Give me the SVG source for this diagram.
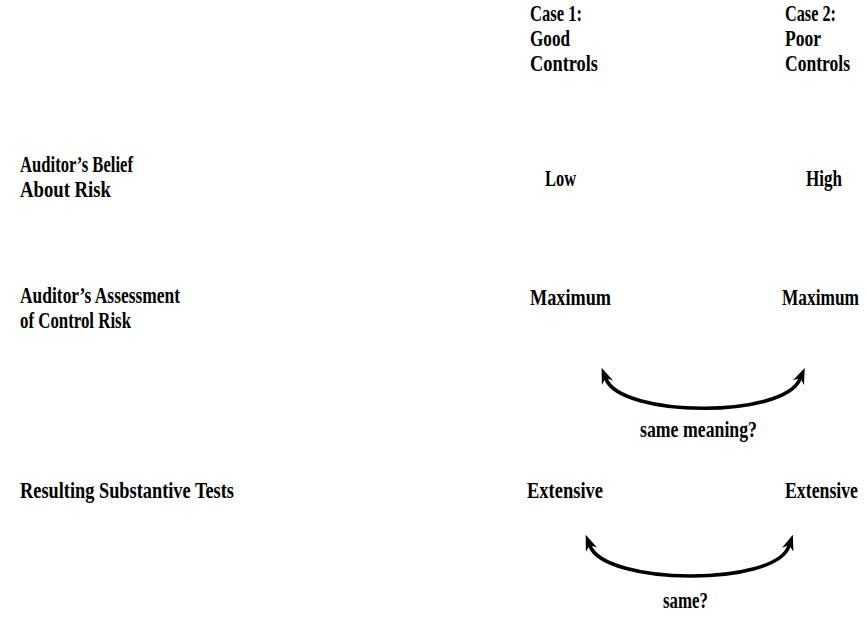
<svg xmlns="http://www.w3.org/2000/svg" width="867" height="617" viewBox="0 0 867 617">
  <defs>
    <style>
      text { font-family: "Liberation Serif", "DejaVu Serif", serif; font-weight: bold; font-size: 23px; fill: #000; }
      .r { text-anchor: end; }
      .arc { fill: none; stroke: #000; stroke-width: 3.6; stroke-linecap: round; }
    </style>
    <marker id="head" viewBox="0 0 16 12" refX="4" refY="6" markerWidth="16" markerHeight="12" markerUnits="userSpaceOnUse" orient="auto-start-reverse">
      <path d="M0,0 L16,6 L0,12 L5,6 Z" fill="#000"/>
    </marker>
  </defs>

  <!-- column headings -->
  <g id="case1-heading">
    <text x="530" y="21" textLength="52" lengthAdjust="spacingAndGlyphs">Case 1:</text>
    <text x="530" y="46" textLength="40" lengthAdjust="spacingAndGlyphs">Good</text>
    <text x="530" y="71" textLength="68" lengthAdjust="spacingAndGlyphs">Controls</text>
  </g>
  <g id="case2-heading">
    <text x="785" y="21" textLength="51" lengthAdjust="spacingAndGlyphs">Case 2:</text>
    <text x="785" y="46" textLength="36" lengthAdjust="spacingAndGlyphs">Poor</text>
    <text class="r" x="850" y="71" textLength="65" lengthAdjust="spacingAndGlyphs">Controls</text>
  </g>

  <!-- row labels -->
  <g id="row-belief">
    <text x="20" y="172" textLength="113" lengthAdjust="spacingAndGlyphs">Auditor’s Belief</text>
    <text x="20" y="197" textLength="91" lengthAdjust="spacingAndGlyphs">About Risk</text>
  </g>
  <g id="row-assessment">
    <text x="20" y="303" textLength="160" lengthAdjust="spacingAndGlyphs">Auditor’s Assessment</text>
    <text x="20" y="328" textLength="111" lengthAdjust="spacingAndGlyphs">of Control Risk</text>
  </g>
  <g id="row-tests">
    <text x="20" y="498" textLength="214" lengthAdjust="spacingAndGlyphs">Resulting Substantive Tests</text>
  </g>

  <!-- cell values -->
  <g id="belief-case1"><text x="545" y="186" textLength="31" lengthAdjust="spacingAndGlyphs">Low</text></g>
  <g id="belief-case2"><text x="806" y="186" textLength="36" lengthAdjust="spacingAndGlyphs">High</text></g>
  <g id="assessment-case1"><text x="530" y="305" textLength="81" lengthAdjust="spacingAndGlyphs">Maximum</text></g>
  <g id="assessment-case2"><text class="r" x="859" y="305" textLength="77" lengthAdjust="spacingAndGlyphs">Maximum</text></g>
  <g id="tests-case1"><text x="527" y="498" textLength="76" lengthAdjust="spacingAndGlyphs">Extensive</text></g>
  <g id="tests-case2"><text class="r" x="858" y="498" textLength="73" lengthAdjust="spacingAndGlyphs">Extensive</text></g>

  <!-- comparison arcs -->
  <g id="connectors">
    <path class="arc" d="M606,379 C621,417 783,419 800,379" marker-start="url(#head)" marker-end="url(#head)"/>
    <path class="arc" d="M590,546 C605,585 775,587 789,546" marker-start="url(#head)" marker-end="url(#head)"/>
  </g>
  <g id="label-same-meaning"><text x="640" y="437" textLength="117" lengthAdjust="spacingAndGlyphs">same meaning?</text></g>
  <g id="label-same"><text x="663" y="608" textLength="45" lengthAdjust="spacingAndGlyphs">same?</text></g>
</svg>
